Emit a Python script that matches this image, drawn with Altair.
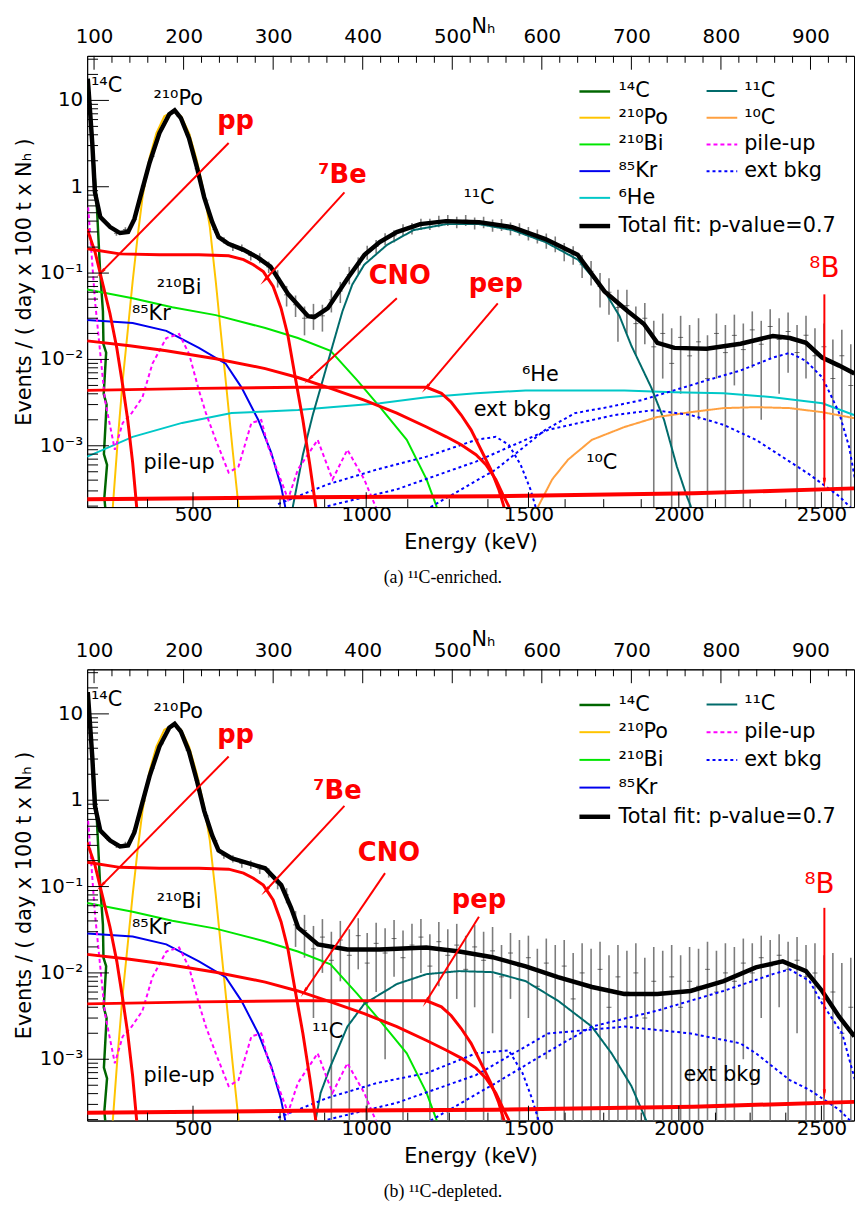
import altair as alt
import numpy as np
import pandas as pd

FONT = "DejaVu Sans"
SERIF = "Liberation Serif"
W, H = 775, 456
NH_DOMAIN = [92.3, 948.6]
Y_DOMAIN = [1.95e-4, 32.8]

# ---------------- axis ticks ----------------
NH_MAJOR = [100, 200, 300, 400, 500, 600, 700, 800, 900]
NH_MINOR = [120, 140, 160, 180, 220, 240, 260, 280, 320, 340, 360, 380,
            420, 440, 460, 480, 520, 540, 560, 580, 620, 640, 660, 680,
            720, 740, 760, 780, 820, 840, 860, 880, 920, 940]
E_MAJOR = ["500", "1000", "1500", "2000", "2500"]
E_MAJOR_NH = [210.5, 403.9, 585.1, 753.0, 912.2]
E_MINOR_NH = [159.7, 260.2, 307.7, 357.5, 450.3, 496.7, 539.8, 626.0,
              669.1, 711.0, 793.9, 832.6, 872.4]
Y_MAJOR = [0.001, 0.01, 0.1, 1.0, 10.0]
Y_MAJOR_LABELS = ["10⁻³", "10⁻²", "10⁻¹", "1", "10"]
Y_MINOR = [m * 10.0 ** e for e in range(-4, 2) for m in range(2, 10)
           if Y_DOMAIN[0] <= m * 10.0 ** e <= Y_DOMAIN[1]]

# ---------------- names / colours ----------------
N14C, NPO, NBI, NKR, NHE = "¹⁴C", "²¹⁰Po", "²¹⁰Bi", "⁸⁵Kr", "⁶He"
NTOT = "Total fit: p-value=0.7"
N11C, N10C, NPU, NEXT = "¹¹C", "¹⁰C", "pile-up", "ext bkg"
COL = {N14C: "#006600", NPO: "#FFC400", NBI: "#00E600", NKR: "#0000EE",
       NHE: "#00C8C8", NTOT: "#000000", N11C: "#006B6B", N10C: "#FFA040",
       NPU: "#FF00FF", NEXT: "#0000FF"}
WID = {N14C: 2.5, NPO: 2, NBI: 2, NKR: 2, NHE: 2, NTOT: 4.5}
DASH = {N11C: [1, 0], N10C: [1, 0], NPU: [4, 3], NEXT: [3, 3]}

# ---------------- common components ----------------
C14_NH = [93.4, 98.9, 103.3, 106.6, 109.9, 110.5, 113.5, 110.8, 114.0, 111.0, 114.5, 111.5, 115.0]
C14 = [15.7, 2.47, 0.548, 0.113, 0.0362, 0.015, 0.012, 0.004, 0.003, 0.0008, 0.0006, 0.00025, 0.0001]
PO_NH = [119, 121.0, 126.5, 132.0, 137.6, 143.1, 148.6, 154.1, 161.9, 169.6, 178.5, 188.4,
         197.2, 206.1, 214.9, 222.7, 229.3, 235.9, 241.4, 248.1, 254.7, 261.3, 263]
PO = [0.0001, 0.0002, 0.00117, 0.00571, 0.0214, 0.080, 0.262, 0.753, 2.16, 4.19, 6.56, 7.48,
      6.56, 4.19, 2.00, 0.859, 0.341, 0.080, 0.0214, 0.00438, 0.0009, 0.0002, 0.0001]
BI_NH = [92.3, 143.1, 187.3, 235.9, 291.2, 327.6, 364.1, 393.9, 419.3, 449.2, 471.3, 482.3, 487]
BI = [0.0647, 0.0511, 0.0402, 0.0326, 0.0231, 0.0177, 0.0126, 0.00571, 0.0028, 0.00117,
      0.000408, 0.0002, 0.0001]
KR_NH = [92.3, 143.1, 180.7, 217.1, 247.0, 264.6, 283.4, 297.8, 308.8, 313.3, 316]
KR = [0.0286, 0.0264, 0.0214, 0.0136, 0.00894, 0.00475, 0.00199, 0.000832, 0.000339, 0.0002, 0.0001]
HE_NH = [92.3, 143.1, 198.3, 253.6, 327.6, 364.1, 419.3, 471.3, 526.5, 581.8, 637.0, 692.3,
         747.5, 802.8, 858.0, 913.3, 948.6]
HE = [0.000748, 0.00127, 0.00184, 0.00239, 0.00259, 0.0028, 0.00311, 0.00365, 0.00405, 0.00438,
      0.00438, 0.00438, 0.00416, 0.00405, 0.00365, 0.00311, 0.00227]
C10_NH = [593, 596.1, 611.6, 629.3, 655.8, 692.3, 728.7, 766.3, 802.8, 839.2, 876.8, 913.3, 948.6]
C10 = [0.0001, 0.0002, 0.000408, 0.000691, 0.00117, 0.00165, 0.00215, 0.00245, 0.00273, 0.0028,
       0.00273, 0.00245, 0.00209]
PILE_NH = [93.4, 101.1, 112.2, 123.2, 132.0, 142.0, 154.1, 165.2, 180.7, 195.0, 206.1, 217.1,
           224.9, 235.9, 250.3, 261.3, 275.7, 286.7, 294.5, 305.5, 316.6, 327.6, 349.7, 366.3,
           382.9, 401.7, 416.0]
PILE = [0.578, 0.0471, 0.00337, 0.0009, 0.00184, 0.00239, 0.00365, 0.00894, 0.0177, 0.0197,
        0.0116, 0.00438, 0.00239, 0.00117, 0.00049, 0.000574, 0.00184, 0.00199, 0.000974,
        0.00049, 0.00024, 0.000531, 0.00117, 0.000408, 0.0009, 0.000408, 0.00018]

PP_NH = [92.3, 101.1, 109.9, 117.7, 125.4, 132.0, 137.6, 143.1, 147.5, 150]
PP = [0.324, 0.176, 0.0738, 0.0343, 0.0136, 0.005, 0.00199, 0.000639, 0.0002, 0.0001]
BE7_NH = [92.3, 128.7, 172.9, 217.1, 250.3, 266.9, 277.9, 289.0, 300.0, 308.8, 316.6, 324.3,
          333.2, 340.9, 347.5, 350]
BE7 = [0.191, 0.167, 0.163, 0.163, 0.159, 0.143, 0.125, 0.104, 0.070, 0.0392, 0.0187, 0.00651,
       0.00199, 0.000605, 0.0002, 0.0001]
CNO_NH = [92.3, 139.8, 180.7, 235.9, 291.2, 327.6, 364.1, 401.7, 438.1, 471.3, 493.4, 510.0,
          526.5, 537.6, 548.6, 556.4, 563.0, 566]
CNO = [0.0164, 0.0144, 0.0126, 0.0102, 0.00783, 0.00618, 0.00462, 0.00337, 0.00239, 0.00165,
       0.00127, 0.00103, 0.000789, 0.000605, 0.000408, 0.000274, 0.0002, 0.0001]
PEP_NH = [92.3, 217.1, 327.6, 471.3, 487.9, 498.9, 510.0, 521.0, 532.1, 543.1, 551.9, 557.5, 560]
PEP = [0.00438, 0.00462, 0.00475, 0.00475, 0.00405, 0.00319, 0.00227, 0.00153, 0.0009,
       0.000531, 0.000313, 0.0002, 0.0001]
B8_NH = [92.3, 327.6, 548.6, 769.6, 948.6]
B8 = [0.00024, 0.000253, 0.00026, 0.000282, 0.000321]

# ---------------- panel (a): 11C-enriched ----------------
A_TOT_NH = [93, 98, 101, 107, 118, 129, 138, 145, 153, 162, 173, 184, 190, 197, 206, 215, 223,
            232, 239, 250, 267, 283, 297, 317, 339, 346, 361, 383, 402, 419, 438, 464, 493, 530,
            567, 604, 640, 670, 696, 714, 729, 748, 784, 822, 858, 877, 895, 913, 932, 949]
A_TOT = [17.9, 3.21, 0.859, 0.444, 0.341, 0.291, 0.299, 0.422, 0.859, 1.90, 4.19, 6.92, 7.67,
         6.22, 3.66, 1.66, 0.753, 0.389, 0.262, 0.218, 0.186, 0.151, 0.119, 0.0567, 0.0317,
         0.0309, 0.0392, 0.0865, 0.163, 0.229, 0.299, 0.369, 0.400, 0.389, 0.341, 0.248, 0.163,
         0.0614, 0.0362, 0.0257, 0.0156, 0.0136, 0.0133, 0.0152, 0.0187, 0.0177, 0.0156, 0.0105,
         0.00848, 0.00687]
A_C11_NH = [319, 322.1, 333.2, 344.2, 355.3, 366.3, 377.4, 388.4, 401.7, 427.1, 456.9, 493.4,
            529.8, 567.4, 603.9, 640.3, 670.2, 686.8, 700.0, 722.1, 736.5, 750.8, 761.9, 766.3, 769]
A_C11 = [0.0001, 0.0002, 0.000789, 0.00227, 0.00571, 0.0144, 0.0362, 0.0738, 0.125, 0.212, 0.315,
         0.369, 0.369, 0.315, 0.229, 0.143, 0.0614, 0.0317, 0.0144, 0.00475, 0.00199, 0.000574,
         0.00026, 0.0002, 0.0001]
A_K40_NH = [305.5, 360.8, 416.0, 471.3, 526.5, 548.6, 563.0, 576.3, 587.3, 592.8, 596]
A_K40 = [0.000211, 0.000357, 0.000531, 0.000748, 0.00117, 0.00127, 0.00103, 0.000605, 0.000313,
         0.0002, 0.0001]
A_BI214_NH = [360.8, 438.1, 526.5, 607.2, 681.2, 725.4, 766.3, 802.8, 839.2, 876.8, 898.9,
              932.1, 943.1, 948.6]
A_BI214 = [0.0002, 0.000313, 0.000656, 0.00153, 0.00227, 0.00259, 0.00227, 0.00175, 0.00117,
           0.000656, 0.000465, 0.00026, 0.0002, 0.00017]
A_TL208_NH = [470, 548.6, 603.9, 637.0, 673.5, 711.1, 747.5, 784.0, 821.6, 858.0, 876.8, 894.5,
              913.3, 932.1, 943.1, 949.7]
A_TL208 = [0.00018, 0.000531, 0.00153, 0.00239, 0.0028, 0.00337, 0.00438, 0.00571, 0.00743,
           0.0105, 0.0119, 0.00968, 0.00618, 0.00239, 0.000974, 0.000408]

DATA_NH = list(range(95, 950, 10))
A_DATA = [9.2, 0.50, 0.37, 0.29, 0.32, 0.42, 1.02, 2.25, 4.7, 7.1, 6.5, 4.0, 1.62, 0.70, 0.32,
          0.24, 0.20, 0.195, 0.16, 0.15, 0.118, 0.088, 0.056, 0.043, 0.030, 0.033, 0.032, 0.049,
          0.062, 0.096, 0.125, 0.175, 0.205, 0.25, 0.27, 0.32, 0.33, 0.37, 0.37, 0.40, 0.41, 0.39,
          0.41, 0.38, 0.39, 0.36, 0.365, 0.33, 0.325, 0.29, 0.27, 0.24, 0.22, 0.18, 0.165, 0.125,
          0.105, 0.07, 0.06, 0.04, 0.042, 0.026, 0.03, 0.014, 0.02, 0.009, 0.018, 0.011, 0.016,
          0.006, 0.02, 0.012, 0.019, 0.013, 0.022, 0.015, 0.024, 0.017, 0.021, 0.012, 0.019,
          0.011, 0.014, 0.006, 0.011, 0.005]
A_ERR = [0.3, 0.03, 0.02, 0.02, 0.02, 0.03, 0.05, 0.08, 0.12, 0.15, 0.14, 0.10, 0.06, 0.04, 0.025,
         0.02, 0.02, 0.02, 0.02, 0.02, 0.018,
         0.02, 0.015, 0.012, 0.011, 0.011, 0.011, 0.014, 0.017, 0.022, 0.027, 0.032, 0.036, 0.04,
         0.044, 0.048,
         0.05, 0.055, 0.055, 0.06, 0.06, 0.06, 0.06, 0.06, 0.06, 0.058, 0.057, 0.055, 0.054, 0.052,
         0.05, 0.048, 0.046, 0.043, 0.04, 0.037, 0.033, 0.03, 0.027, 0.024, 0.022,
         0.015, 0.015, 0.014, 0.014, 0.014, 0.014, 0.014, 0.014, 0.013, 0.014, 0.013, 0.014, 0.013,
         0.014, 0.013, 0.014, 0.013, 0.014, 0.013, 0.013, 0.012, 0.012, 0.011, 0.011, 0.010]

# ---------------- panel (b): 11C-depleted ----------------
B_TOT_NH = [93, 98, 101, 107, 118, 129, 138, 145, 153, 162, 173, 184, 190, 197, 206, 215, 223,
            232, 239, 254, 291, 309, 320, 328, 350, 383, 419, 471, 508, 545, 582, 618, 656, 692,
            729, 766, 803, 839, 869, 895, 913, 932, 949]
B_TOT = [17.9, 3.21, 0.859, 0.444, 0.341, 0.291, 0.299, 0.422, 0.859, 1.90, 4.19, 6.92, 7.67,
         6.22, 3.66, 1.66, 0.753, 0.389, 0.262, 0.212, 0.163, 0.104, 0.0567, 0.0334, 0.0214,
         0.0187, 0.0187, 0.0197, 0.0177, 0.0152, 0.0119, 0.00894, 0.00687, 0.00571, 0.00571,
         0.00618, 0.00804, 0.0116, 0.0136, 0.0105, 0.00618, 0.00311, 0.00184]
B_C11_NH = [345, 347.5, 353.0, 364.1, 382.9, 401.7, 438.1, 471.3, 507.7, 545.3, 581.8, 618.2,
            655.8, 677.9, 700.0, 714.4, 720]
B_C11 = [0.0001, 0.0002, 0.000408, 0.000832, 0.00239, 0.00438, 0.00743, 0.00968, 0.0105, 0.0102,
         0.00804, 0.00475, 0.00239, 0.00117, 0.00049, 0.000221, 0.00016]
B_K40_NH = [305.5, 360.8, 416.0, 471.3, 526.5, 563.0, 578.5, 589.5, 596.1, 599]
B_K40 = [0.000211, 0.000357, 0.000531, 0.000691, 0.00117, 0.00127, 0.000691, 0.000339, 0.0002, 0.0001]
B_BI214_NH = [360.8, 438.1, 526.5, 607.2, 692.3, 766.3, 821.6, 839.2, 876.8, 898.9, 932.1, 943.1, 948.6]
B_BI214 = [0.0002, 0.000313, 0.000656, 0.00199, 0.00239, 0.00199, 0.00153, 0.00117, 0.000574,
           0.000442, 0.00026, 0.0002, 0.00017]
B_TL208_NH = [470, 548.6, 603.9, 655.8, 728.7, 802.8, 858.0, 876.8, 898.9, 913.3, 935.4, 949.7]
B_TL208 = [0.00018, 0.000531, 0.00117, 0.00239, 0.00365, 0.00618, 0.00968, 0.011, 0.00804,
           0.00438, 0.00199, 0.000574]
B_DATA = [9.0, 0.51, 0.36, 0.30, 0.31, 0.44, 0.98, 2.35, 4.5, 7.0, 6.7, 3.8, 1.7, 0.66, 0.34,
          0.23, 0.21, 0.185, 0.18, 0.16, 0.145, 0.11, 0.08, 0.036, 0.031, 0.019, 0.026, 0.014,
          0.024, 0.016, 0.027, 0.013, 0.022, 0.017, 0.025, 0.015, 0.021, 0.026, 0.012, 0.023,
          0.016, 0.021, 0.011, 0.02, 0.014, 0.018, 0.009, 0.017, 0.012, 0.015, 0.007, 0.013,
          0.009, 0.012, 0.005, 0.01, 0.007, 0.011, 0.004, 0.009, 0.006, 0.01, 0.003, 0.008,
          0.006, 0.009, 0.004, 0.008, 0.007, 0.011, 0.006, 0.01, 0.008, 0.013, 0.01, 0.015,
          0.012, 0.016, 0.011, 0.014, 0.009, 0.01, 0.005, 0.006, 0.002, 0.004]
B_ERR = [0.3, 0.03, 0.02, 0.02, 0.02, 0.03, 0.05, 0.08, 0.12, 0.15, 0.14, 0.10, 0.06, 0.04, 0.025,
         0.02, 0.02, 0.02, 0.02, 0.02, 0.018,
         0.017, 0.016, 0.016, 0.016, 0.016, 0.016, 0.016, 0.016, 0.016, 0.016, 0.016, 0.016,
         0.016, 0.016, 0.016, 0.016, 0.016, 0.016, 0.016, 0.016, 0.016, 0.016, 0.016, 0.016,
         0.016, 0.012, 0.012, 0.012, 0.012, 0.012, 0.012, 0.012, 0.012, 0.012, 0.012, 0.012,
         0.012, 0.012, 0.012, 0.012, 0.012, 0.012, 0.012, 0.012, 0.012, 0.012, 0.012, 0.012,
         0.012, 0.012, 0.012, 0.012, 0.012, 0.012, 0.012, 0.012, 0.012, 0.012, 0.012, 0.012,
         0.012, 0.011, 0.011, 0.011, 0.011]

# ---------------- annotations ----------------
A_LAB_T = [N14C, NPO, NBI, NKR, N11C, NHE, NEXT, N10C, NPU]
A_LAB_NH = [114, 193.9, 195, 164, 529.8, 598.4, 567.4, 666.9, 195]
A_LAB_V = [14.5, 10.5, 0.0664, 0.0334, 0.733, 0.00651, 0.00259, 0.000639, 0.000639]
B_LAB_T = [N14C, NPO, NBI, NKR, N11C, NEXT, NPU]
B_LAB_NH = [114, 193.9, 195, 164, 360.8, 801.7, 195]
B_LAB_V = [14.5, 10.5, 0.0664, 0.0334, 0.00209, 0.000656, 0.000639]
NU_T = ["pp", "⁷Be", "CNO", "pep"]
A_NU_NH = [258, 377.4, 441.4, 548.6]
A_NU_V = [5.74, 1.38, 0.0912, 0.0738]
B_NU_NH = [258, 371.8, 429.3, 529.8]
B_NU_V = [5.74, 1.28, 0.242, 0.0700]
A_B8_LAB = (915.5, 0.110)
B_B8_LAB = (910, 0.104)
# arrows: start nh, start value, end nh, end value, head angle (deg)
A_ARR = dict(x1=[250.3, 379.6, 438.1, 550.8, 915.5], y1=[3.21, 0.859, 0.0511, 0.0447, 0.0567],
             x2=[108.8, 291.2, 340.9, 471.3, 915.5], y2=[0.104, 0.0843, 0.00601, 0.00475, 0.000386],
             ang=[224.6, 222.3, 227.4, 220.3, 180])
B_ARR = dict(x1=[250.3, 379.6, 424.9, 529.8, 915.5], y1=[3.21, 0.859, 0.143, 0.0447, 0.0567],
             x2=[108.8, 292.3, 335.4, 471.3, 915.5], y2=[0.104, 0.0912, 0.00618, 0.00475, 0.000408],
             ang=[224.3, 222.9, 214.2, 211.9, 180])

# ---------------- helpers ----------------
def ternary(vals, labels):
    s = "''"
    for v, l in reversed(list(zip(vals, labels))):
        s = f"(datum.value == {v} ? '{l}' : {s})"
    return s

xscale = alt.Scale(domain=NH_DOMAIN, nice=False, zero=False)
yscale = alt.Scale(type="log", domain=Y_DOMAIN, nice=False)
AX = dict(grid=False, ticks=False, tickSize=0, labelFont=FONT, titleFont=FONT,
          labelColor="black", titleColor="black", domainColor="black", domainWidth=1,
          titleFontWeight="normal", labelFlush=False, labelOverlap=False,
          titleBaseline="alphabetic")
yaxis = alt.Axis(orient="left", values=Y_MAJOR, labels=False,
                 title="Events / ( day x 100 t x Nₕ )", titleFontSize=21, titleX=-57, **AX)
bottom_axis = alt.Axis(orient="bottom", values=E_MAJOR_NH, labelExpr=ternary(E_MAJOR_NH, E_MAJOR),
                       title="Energy (keV)", labelFontSize=20, titleFontSize=21,
                       labelBaseline="middle", labelPadding=8, titleY=42, **AX)
top_axis = alt.Axis(orient="top", values=NH_MAJOR, format="d", title="Nₕ", labelFontSize=20,
                    titleFontSize=21, labelBaseline="middle", labelPadding=19, titleY=-24,
                    titleX=400, **AX)


def Y(field):
    return alt.Y(f"{field}:Q", scale=yscale, axis=yaxis)


def X(field, axis=None):
    return alt.X(f"{field}:Q", scale=xscale, axis=axis)


def long_df(series):
    rows = []
    for name, piece, nh, v in series:
        for i, (a, b) in enumerate(zip(nh, v)):
            rows.append({"name": name, "piece": piece, "i": i, "nh": a, "val": b})
    return pd.DataFrame(rows)


def panel(tot_nh, tot, c11_nh, c11, k40, bi214, tl208, data, err, with_he,
          labs, nu, b8lab, arr, rowpad, caption):
    dom1 = [N14C, NPO, NBI, NKR] + ([NHE] if with_he else []) + [NTOT]
    dom2 = [N11C] + ([N10C] if with_he else []) + [NPU, NEXT]
    leg1 = alt.Legend(title=None, orient="none", legendX=495, legendY=19, symbolType="stroke",
                      symbolSize=961, labelFont=FONT, labelFontSize=21, labelColor="black",
                      labelLimit=600, labelOffset=6, rowPadding=rowpad, padding=0)
    leg2 = alt.Legend(title=None, orient="none", legendX=625, legendY=19, symbolType="stroke",
                      symbolSize=961, labelFont=FONT, labelFontSize=21, labelColor="black",
                      labelLimit=600, labelOffset=6, rowPadding=rowpad, padding=0,
                      symbolStrokeWidth=2)
    color = alt.Color("name:N", scale=alt.Scale(domain=dom1, range=[COL[n] for n in dom1]),
                      legend=leg1)
    swidth = alt.StrokeWidth("name:N", scale=alt.Scale(type="ordinal", domain=dom1,
                                                       range=[WID[n] for n in dom1]), legend=leg1)
    stroke = alt.Stroke("name:N", scale=alt.Scale(domain=dom2, range=[COL[n] for n in dom2]),
                        legend=leg2)
    sdash = alt.StrokeDash("name:N", scale=alt.Scale(domain=dom2, range=[DASH[n] for n in dom2]),
                           legend=leg2)

    layers = []
    d = pd.DataFrame({"nh": DATA_NH, "val": data, "err": err})
    d["lo"] = np.maximum(d["val"] - d["err"], 1e-5)
    d["hi"] = d["val"] + d["err"]
    layers.append(alt.Chart(d).mark_rule(color="#7c7c7c", strokeWidth=1.6, clip=True).encode(
        x=X("nh", bottom_axis), y=Y("lo"), y2=alt.Y2("hi:Q")))
    layers.append(alt.Chart(d).mark_tick(orient="horizontal", color="#333333", size=5,
                                         thickness=1, clip=True).encode(x=X("nh"), y=Y("val")))

    s1 = [(N14C, "a", C14_NH, C14), (NPO, "a", PO_NH, PO), (NBI, "a", BI_NH, BI),
          (NKR, "a", KR_NH, KR)] + ([(NHE, "a", HE_NH, HE)] if with_he else [])
    layers.append(alt.Chart(long_df(s1)).mark_line(clip=True).encode(
        x=X("nh"), y=Y("val"), color=color, strokeWidth=swidth, order="i:Q"))

    s2 = [(N11C, "a", c11_nh, c11)] + ([(N10C, "a", C10_NH, C10)] if with_he else []) + \
         [(NPU, "a", PILE_NH, PILE), (NEXT, "k40", *k40), (NEXT, "bi214", *bi214),
          (NEXT, "tl208", *tl208)]
    layers.append(alt.Chart(long_df(s2)).mark_line(clip=True, strokeWidth=2).encode(
        x=X("nh"), y=Y("val"), stroke=stroke, strokeDash=sdash, detail="piece:N", order="i:Q"))

    layers.append(alt.Chart(long_df([(NTOT, "a", tot_nh, tot)])).mark_line(clip=True).encode(
        x=X("nh"), y=Y("val"), color=color, strokeWidth=swidth))

    s3 = [("pp", "a", PP_NH, PP), ("7Be", "a", BE7_NH, BE7), ("CNO", "a", CNO_NH, CNO),
          ("pep", "a", PEP_NH, PEP)]
    layers.append(alt.Chart(long_df(s3)).mark_line(clip=True, color="#FF0000", strokeWidth=3).encode(
        x=X("nh"), y=Y("val"), detail="name:N"))
    layers.append(alt.Chart(long_df([("8B", "a", B8_NH, B8)])).mark_line(
        clip=True, color="#FF0000", strokeWidth=4).encode(x=X("nh"), y=Y("val")))

    # labels
    lt, lnh, lv = labs
    layers.append(alt.Chart(pd.DataFrame({"t": lt, "nh": lnh, "v": lv})).mark_text(
        font=FONT, fontSize=21, color="black", baseline="middle", align="center").encode(
        x=X("nh"), y=Y("v"), text="t:N"))
    nnh, nv = nu
    layers.append(alt.Chart(pd.DataFrame({"t": NU_T, "nh": nnh, "v": nv})).mark_text(
        font=FONT, fontSize=26, fontWeight="bold", color="#FF0000", baseline="middle",
        align="center").encode(x=X("nh"), y=Y("v"), text="t:N"))
    layers.append(alt.Chart(pd.DataFrame({"t": ["⁸B"], "nh": [b8lab[0]], "v": [b8lab[1]]})).mark_text(
        font=FONT, fontSize=28, color="#FF0000", baseline="middle", align="center").encode(
        x=X("nh"), y=Y("v"), text="t:N"))
    a = pd.DataFrame(arr)
    layers.append(alt.Chart(a).mark_rule(color="#FF0000", strokeWidth=2).encode(
        x=X("x1"), y=Y("y1"), x2="x2:Q", y2="y2:Q"))
    layers.append(alt.Chart(a).mark_point(shape="wedge", filled=True, color="#FF0000", size=160,
                                          opacity=1).encode(
        x=X("x2"), y=Y("y2"), angle=alt.Angle("ang:Q", scale=None)))

    # y tick labels (right-aligned next to the frame)
    layers.append(alt.Chart(pd.DataFrame({"v": Y_MAJOR, "t": Y_MAJOR_LABELS})).mark_text(
        font=FONT, fontSize=20, color="black", align="right", baseline="middle").encode(
        y=Y("v"), x=alt.value(-4), text="t:N"))

    # inward ticks (ROOT style)
    layers.append(alt.Chart(pd.DataFrame({"v": Y_MAJOR})).mark_rule(color="black").encode(
        y=Y("v"), x=alt.value(0), x2=alt.value(22)))
    layers.append(alt.Chart(pd.DataFrame({"v": Y_MINOR})).mark_rule(color="black").encode(
        y=Y("v"), x=alt.value(0), x2=alt.value(11)))
    layers.append(alt.Chart(pd.DataFrame({"nh": NH_MAJOR})).mark_rule(color="black").encode(
        x=X("nh", top_axis), y=alt.value(0), y2=alt.value(14)))
    layers.append(alt.Chart(pd.DataFrame({"nh": NH_MINOR})).mark_rule(color="black").encode(
        x=X("nh"), y=alt.value(0), y2=alt.value(7)))
    layers.append(alt.Chart(pd.DataFrame({"nh": E_MAJOR_NH})).mark_rule(color="black").encode(
        x=X("nh"), y=alt.value(H), y2=alt.value(H - 15)))
    layers.append(alt.Chart(pd.DataFrame({"nh": E_MINOR_NH})).mark_rule(color="black").encode(
        x=X("nh"), y=alt.value(H), y2=alt.value(H - 8)))

    return alt.layer(*layers).resolve_axis(x="independent").properties(
        width=W, height=H,
        title=alt.TitleParams(caption, orient="bottom", anchor="middle", font=SERIF,
                              fontSize=18, fontWeight="normal", color="black", offset=17,
                              dx=-28))


pa = panel(A_TOT_NH, A_TOT, A_C11_NH, A_C11, (A_K40_NH, A_K40), (A_BI214_NH, A_BI214),
           (A_TL208_NH, A_TL208), A_DATA, A_ERR, True, (A_LAB_T, A_LAB_NH, A_LAB_V),
           (A_NU_NH, A_NU_V), A_B8_LAB, A_ARR, 0, "(a)  ¹¹C-enriched.")
pb = panel(B_TOT_NH, B_TOT, B_C11_NH, B_C11, (B_K40_NH, B_K40), (B_BI214_NH, B_BI214),
           (B_TL208_NH, B_TL208), B_DATA, B_ERR, False, (B_LAB_T, B_LAB_NH, B_LAB_V),
           (B_NU_NH, B_NU_V), B_B8_LAB, B_ARR, 1, "(b)  ¹¹C-depleted.")

chart = alt.vconcat(pa, pb, spacing=40).resolve_scale(
    color="independent", stroke="independent", strokeDash="independent",
    strokeWidth="independent").properties(
    padding={"left": 5, "top": 0, "right": 0, "bottom": 0}, background="white"
).configure_view(stroke="black", strokeWidth=1)

chart.save("out.html", embed_options={"renderer": "svg", "actions": False})
